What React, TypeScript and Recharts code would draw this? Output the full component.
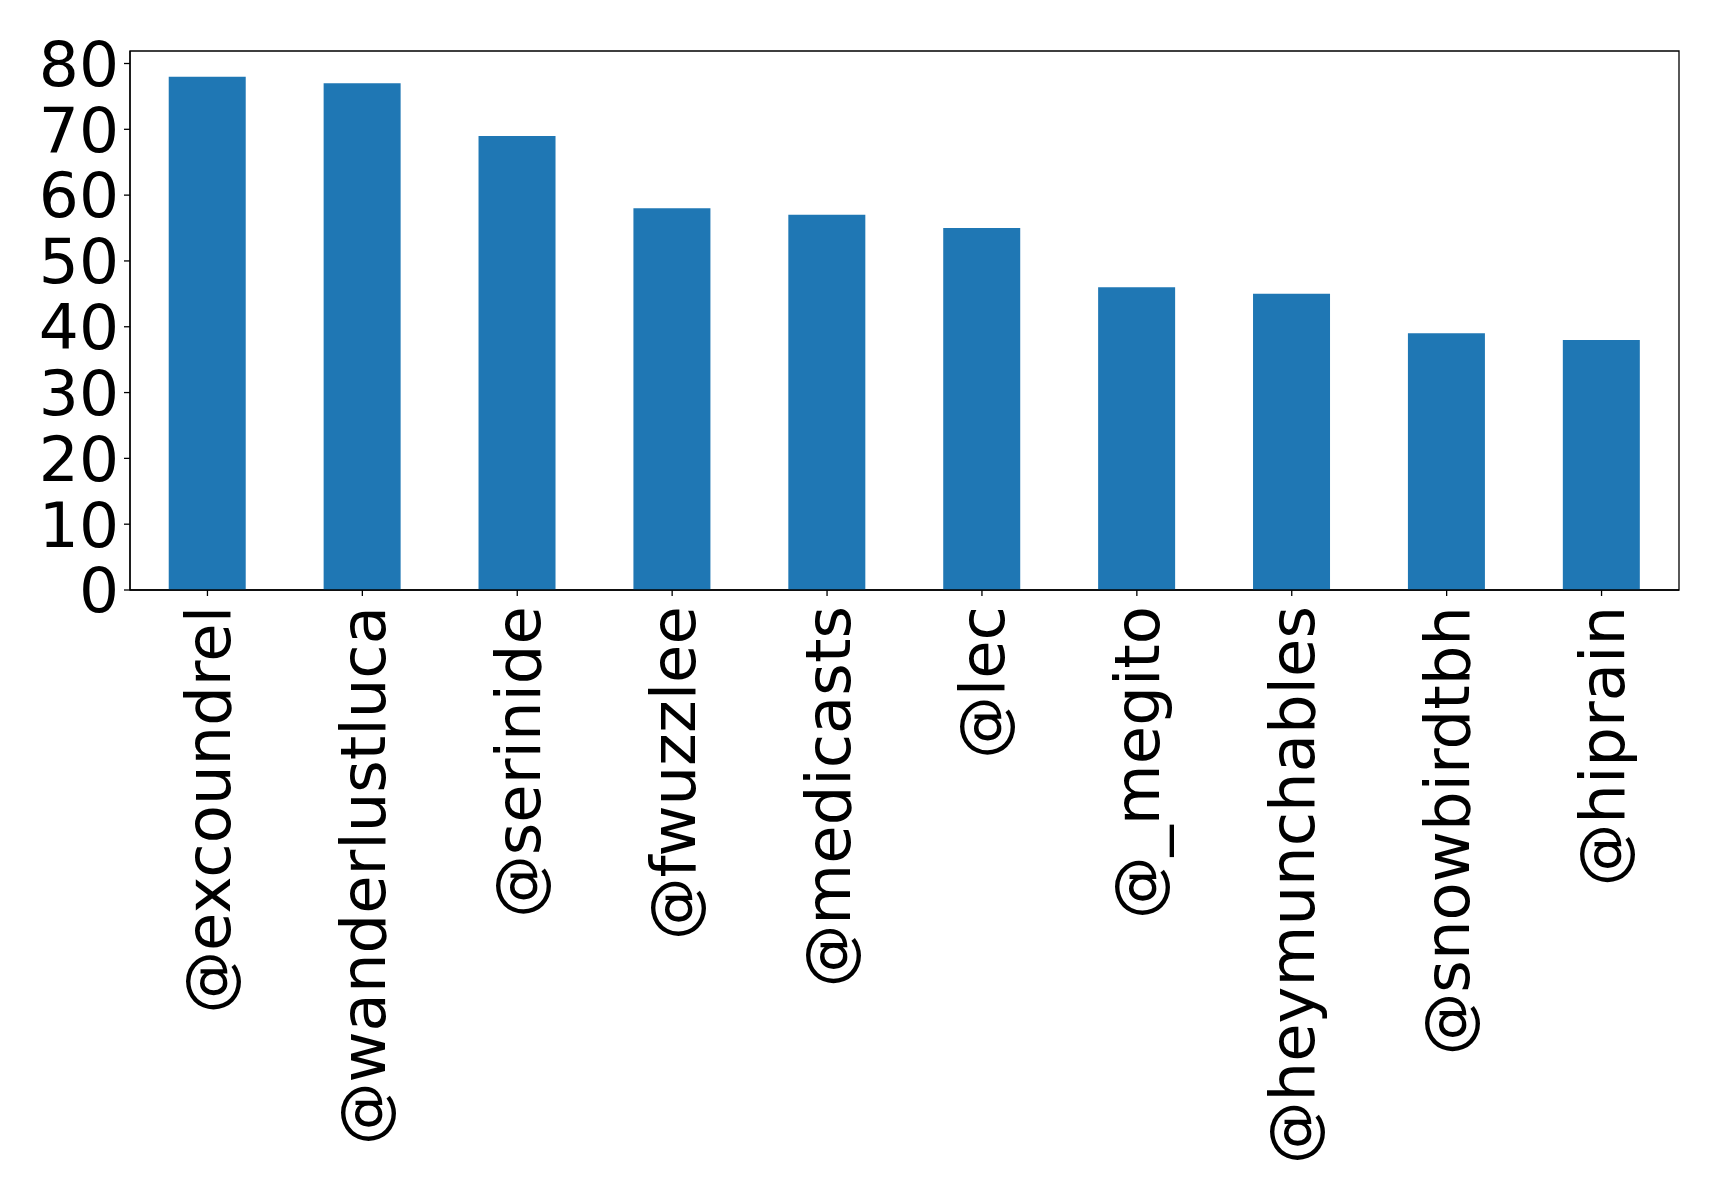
import React from 'react'
import { BarChart, Bar, XAxis, YAxis, ReferenceArea } from 'recharts'

// accounts and their counts
const accounts = ['@excoundrel', '@wanderlustluca', '@serinide', '@fwuzzlee', '@medicasts', '@lec', '@_megito', '@heymunchables', '@snowbirdtbh', '@hiprain']
const counts = [78, 77, 69, 58, 57, 55, 46, 45, 39, 38]
const yTicks = [0, 10, 20, 30, 40, 50, 60, 70, 80]
const yMax = 81.9

const data = accounts.map((name, i) => ({ name, value: counts[i] }))

const FONT = 'DejaVu Sans'

// rotated labels, end of the text sits just under the tick
function RotatedTick(props: any) {
  const { x, y, payload } = props
  return (
    <text
      x={x}
      y={y}
      transform={`rotate(-90, ${x}, ${y})`}
      textAnchor="end"
      dy="0.36em"
      fontFamily={FONT}
      fontSize={62.5}
      fill="#000"
    >
      {payload.value}
    </text>
  )
}

export default function App() {
  return (
    <div style={{ width: 1719, height: 1197, background: '#fff' }}>
      <style>{`body{margin:0}`}</style>
      <BarChart
        width={1719}
        height={1197}
        data={data}
        margin={{ top: 51, right: 40, bottom: 0, left: 0 }}
        barCategoryGap="25%"
      >
        <ReferenceArea y1={0} y2={yMax} fill="none" stroke="#000" strokeWidth={1.3} ifOverflow="visible" />
        <XAxis
          dataKey="name"
          interval={0}
          height={607}
          tickSize={6}
          tickMargin={10}
          axisLine={{ stroke: '#000', strokeWidth: 1.3 }}
          tickLine={{ stroke: '#000', strokeWidth: 1.3 }}
          tick={<RotatedTick />}
        />
        <YAxis
          width={130}
          domain={[0, yMax]}
          ticks={yTicks}
          interval={0}
          tickSize={6}
          tickMargin={5}
          axisLine={{ stroke: '#000', strokeWidth: 1.3 }}
          tickLine={{ stroke: '#000', strokeWidth: 1.3 }}
          tick={{ fill: '#000', fontFamily: FONT, fontSize: 63 }}
        />
        <Bar dataKey="value" fill="#1f77b4" isAnimationActive={false} />
      </BarChart>
    </div>
  )
}
